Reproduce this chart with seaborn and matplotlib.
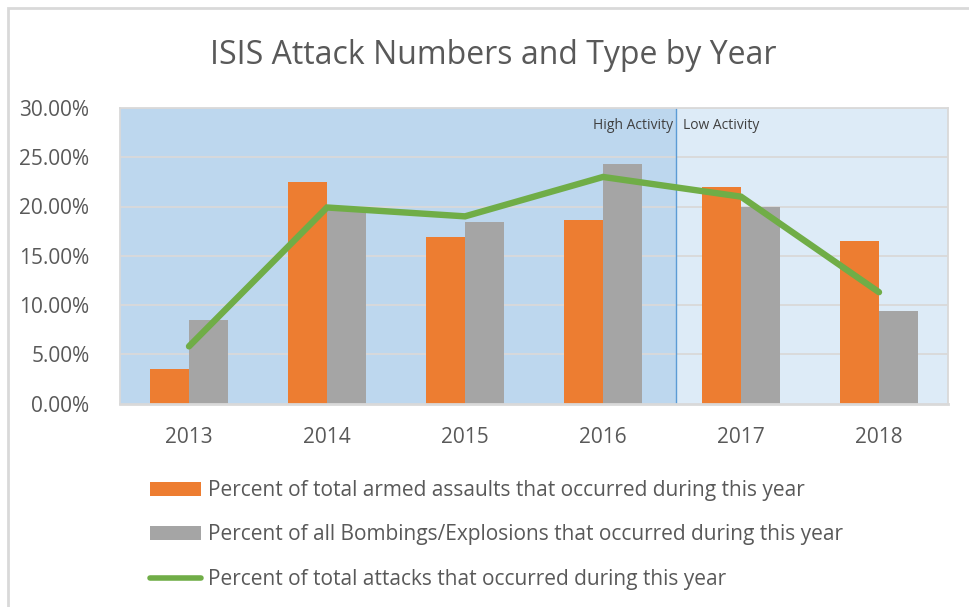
import numpy as np
import pandas as pd
import matplotlib
matplotlib.use("Agg")
import matplotlib.pyplot as plt
from matplotlib.patches import Patch, Rectangle
from matplotlib.lines import Line2D
import seaborn as sns

years = ["2013", "2014", "2015", "2016", "2017", "2018"]
armed_assaults = [3.5, 22.5, 16.9, 18.6, 22.0, 16.5]
bombings = [8.5, 19.6, 18.4, 24.3, 20.0, 9.4]
total_attacks = [5.8, 19.9, 19.0, 23.0, 21.0, 11.3]
series_names = [
    "Percent of total armed assaults that occurred during this year",
    "Percent of all Bombings/Explosions that occurred during this year",
    "Percent of total attacks that occurred during this year",
]
y_ticks = [0, 5, 10, 15, 20, 25, 30]
title = "ISIS Attack Numbers and Type by Year"

ORANGE = "#ED7D31"
GRAY = "#A5A5A5"
GREEN = "#70AD47"
TEXT = "#595959"
GRID = "#D9D9D9"

sns.set_theme(style="white")
plt.rcParams["font.family"] = ["Open Sans", "DejaVu Sans"]

df = pd.DataFrame({
    "year": years * 2,
    "series": [series_names[0]] * 6 + [series_names[1]] * 6,
    "value": armed_assaults + bombings,
})

fig = plt.figure(figsize=(9.69, 6.07), dpi=100)
ax = fig.add_axes([120 / 969, 1 - 403.5 / 607, (948 - 120) / 969, (403.5 - 108) / 607])

split = 3.53
ax.axvspan(-0.5, split, color="#BDD7EE", zorder=0, lw=0)
ax.axvspan(split, 5.5, color="#DDEBF7", zorder=0, lw=0)
for t in y_ticks[1:]:
    ax.axhline(t, color=GRID, lw=1.3, zorder=0.5)
ax.axvline(split, color="#5B9BD5", lw=1.0, zorder=0.6)

sns.barplot(data=df, x="year", y="value", hue="series",
            palette=[ORANGE, GRAY], width=0.56, gap=0,
            saturation=1, ax=ax, zorder=2, legend=False,
            edgecolor="none")

sns.lineplot(x=np.arange(len(years)), y=total_attacks, color=GREEN,
             lw=4.6, ax=ax, zorder=3, solid_capstyle="round",
             solid_joinstyle="miter")

ax.set_xlim(-0.5, 5.5)
ax.set_ylim(0, 30)
ax.set_yticks(y_ticks)
ax.set_yticklabels([f"{v:.2f}%" for v in y_ticks])
ax.set_xticks(range(len(years)))
ax.set_xticklabels(years)
ax.set_xlabel("")
ax.set_ylabel("")
ax.tick_params(axis="y", length=0, pad=22, labelsize=15, labelcolor=TEXT)
ax.tick_params(axis="x", length=0, pad=17, labelsize=15, labelcolor=TEXT)
for s in ax.spines.values():
    s.set_color(GRID)
    s.set_linewidth(1.3)
ax.spines["bottom"].set_linewidth(2)

ax.text(split - 0.02, 28.2, "High Activity", ha="right", va="center",
        fontsize=10, color="#404040")
ax.text(split + 0.05, 28.2, "Low Activity", ha="left", va="center",
        fontsize=10, color="#404040")

fig.text(493 / 969, 1 - 56 / 607, title, ha="center", va="center",
         fontsize=23, color=TEXT)

handles = [
    Patch(facecolor=ORANGE, edgecolor="none"),
    Patch(facecolor=GRAY, edgecolor="none"),
    Line2D([0], [0], color=GREEN, lw=4, solid_capstyle="round"),
]
leg = fig.legend(handles, series_names, loc="upper left",
                 bbox_to_anchor=(150 / 969, 1 - 480 / 607), frameon=False,
                 fontsize=15, labelcolor=TEXT, handlelength=2.45,
                 handleheight=0.65, handletextpad=0.34, labelspacing=1.12,
                 borderaxespad=0, borderpad=0)

fig.patches.append(Rectangle((8 / 969, -0.1), 2, 1.1 - 8 / 607,
                             transform=fig.transFigure, fill=False,
                             edgecolor=GRID, lw=2, zorder=0))

fig.savefig("out.png", dpi=100)
